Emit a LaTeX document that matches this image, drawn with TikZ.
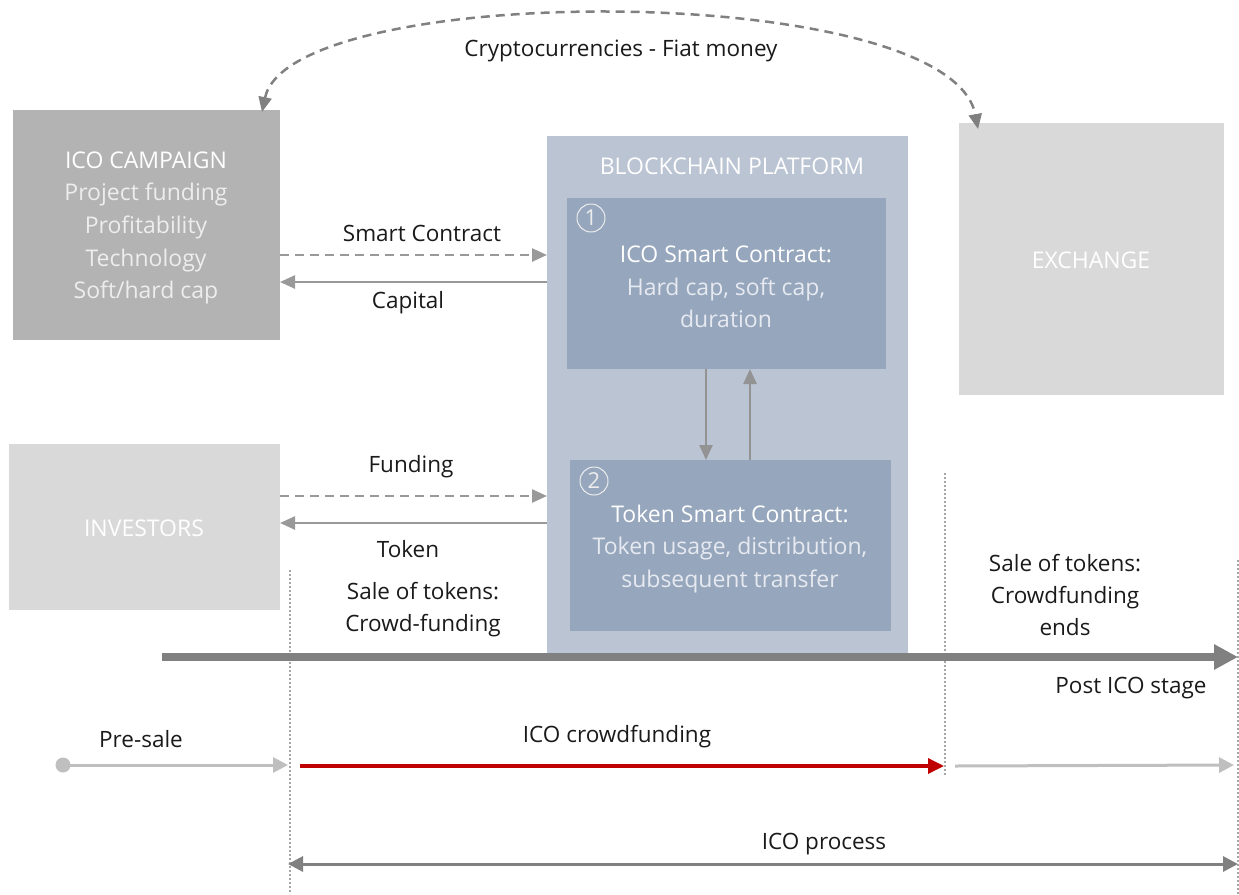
\documentclass[tikz,border=0pt]{standalone}
\usepackage{fontspec}
\setmainfont{Open Sans}
\usetikzlibrary{arrows.meta,calc}
\definecolor{campfill}{HTML}{B3B3B3}
\definecolor{lightfill}{HTML}{D9D9D9}
\definecolor{platfill}{HTML}{BAC4D3}
\definecolor{innerfill}{HTML}{96A6BD}
\definecolor{arrgray}{HTML}{999999}
\definecolor{darkgray}{HTML}{808080}
\definecolor{lightgray}{HTML}{BFBFBF}
\definecolor{dotgray}{HTML}{A6A6A6}
\definecolor{icored}{HTML}{C00000}
\definecolor{subtxt}{HTML}{EDEDED}
\definecolor{subtxtb}{HTML}{E6EAF0}
\definecolor{txt}{HTML}{1A1A1A}
\tikzset{
  box/.style={draw=none,inner sep=0pt,outer sep=0pt,anchor=north west},
  boxtxt/.style={align=center,font=\fontsize{23}{32.7}\selectfont,text=white},
  lbl/.style={align=center,font=\fontsize{22.5}{32}\selectfont,text=txt},
  conn/.style={draw=arrgray,line width=2.5pt,-{Triangle[length=15pt,width=13pt]}},
  dconn/.style={conn,dash pattern=on 9pt off 6pt},
  vdot/.style={draw=dotgray,line width=1.3pt,dash pattern=on 2pt off 2pt},
  num/.style={circle,draw=subtxt,line width=1pt,minimum size=28pt,inner sep=0pt,text=subtxt,font=\fontsize{22}{24}\selectfont},
}
\begin{document}
\begin{tikzpicture}[x=1pt,y=-1pt]
\useasboundingbox (0,0) rectangle (1239,894);
% boxes
\node[box,fill=campfill,minimum width=267pt,minimum height=230pt] (camp) at (13,110) {};
\node[box,fill=lightfill,minimum width=271pt,minimum height=166pt] (inv) at (9,444) {};
\node[box,fill=lightfill,minimum width=265pt,minimum height=272pt] (exch) at (959,123) {};
\node[box,fill=platfill,minimum width=361pt,minimum height=519pt] (plat) at (547,136) {};
\node[box,fill=innerfill,minimum width=319pt,minimum height=171pt] (ico) at (567,198) {};
\node[box,fill=innerfill,minimum width=321pt,minimum height=171pt] (tok) at (570,460) {};
% box texts
\node[boxtxt] (camptxt) at (146,228) {ICO CAMPAIGN\\\color{subtxt}Project funding\\\color{subtxt}Profitability\\\color{subtxt}Technology\\\color{subtxt}Soft/hard cap};
\node[boxtxt] (invtxt) at (144,528) {INVESTORS};
\node[boxtxt] (exchtxt) at (1091,260) {EXCHANGE};
\node[boxtxt] (plattxt) at (732,166) {BLOCKCHAIN PLATFORM};
\node[boxtxt] (icotxt) at (726,287) {ICO Smart Contract:\\\color{subtxtb}Hard cap, soft cap,\\\color{subtxtb}duration};
\node[boxtxt] (toktxt) at (730,549) {Token Smart Contract:\\\color{subtxtb}Token usage, distribution,\\\color{subtxtb}subsequent transfer};
\node[num] (n1) at (591,218) {1};
\node[num] (n2) at (594,481) {2};
% connectors between boxes
\coordinate (sc) at (0,255);
\coordinate (cap) at (0,282);
\coordinate (fu) at (0,496);
\coordinate (tk) at (0,523);
\draw[dconn] (camp.east |- sc) -- (plat.west |- sc);
\draw[conn] (plat.west |- cap) -- (camp.east |- cap);
\draw[dconn] (inv.east |- fu) -- (plat.west |- fu);
\draw[conn] (plat.west |- tk) -- (inv.east |- tk);
\coordinate (dn) at (706,0);
\coordinate (up) at (750,0);
\draw[conn,draw=darkgray!85] (ico.south -| dn) -- (tok.north -| dn);
\draw[conn,draw=darkgray!85] (tok.north -| up) -- (ico.south -| up);
% top curve
\coordinate (cs) at (262,112);
\coordinate (ce) at (978,129);
\draw[draw=darkgray,line width=2.5pt,dash pattern=on 9pt off 6pt,{Triangle[length=15pt,width=13pt]}-{Triangle[length=15pt,width=13pt]}]
  (cs) .. controls (290,-20) and (950,-20) .. (ce);
\node[lbl] (crypto) at (621,51) {Cryptocurrencies - Fiat money};
% labels
\node[lbl] (lsc) at (422,233) {Smart Contract};
\node[lbl] (lcap) at (408,303) {Capital};
\node[lbl] (lfu) at (411,467) {Funding};
\node[lbl] (ltk) at (408,549) {Token};
\node[lbl] (lsale) at (423,610) {Sale of tokens:\\Crowd-funding};
\node[lbl] (lend) at (1065,595) {Sale of tokens:\\Crowdfunding\\ends};
\node[lbl] (lpost) at (1131,688) {Post ICO stage};
\node[lbl] (lpre) at (141,739) {Pre-sale};
\node[lbl] (lcf) at (617,737) {ICO crowdfunding};
\node[lbl] (lproc) at (824,844) {ICO process};
% dotted verticals
\coordinate (v1t) at (290,570);
\coordinate (v1b) at (290,894);
\coordinate (v2t) at (945,473);
\coordinate (v2b) at (945,775);
\coordinate (v3t) at (1238,560);
\coordinate (v3b) at (1238,894);
\draw[vdot] (v1t) -- (v1b);
\draw[vdot] (v2t) -- (v2b);
\draw[vdot] (v3t) -- (v3b);
% timeline
\coordinate (tl0) at (162,657);
\coordinate (tl1) at (1238,657);
\draw[draw=darkgray,line width=8pt,-{Triangle[length=24pt,width=24pt]}] (tl0) -- (tl1);
% pre-sale
\coordinate (ps0) at (63,765);
\coordinate (ps1) at (288,765);
\fill[lightgray] (ps0) circle (7.5pt);
\draw[draw=lightgray,line width=3pt,-{Triangle[length=15pt,width=15pt]}] (ps0) -- (ps1);
% ico crowdfunding
\coordinate (cf0) at (300,766);
\coordinate (cf1) at (944,766);
\draw[draw=icored,line width=3.5pt,-{Triangle[length=16pt,width=15pt]}] (cf0) -- (cf1);
% post
\coordinate (po0) at (955,766);
\coordinate (po1) at (1234,765);
\draw[draw=lightgray,line width=3pt,-{Triangle[length=15pt,width=15pt]}] (po0) -- (po1);
% ico process
\coordinate (pr0) at (288,864);
\coordinate (pr1) at (1238,864);
\draw[draw=darkgray,line width=3pt,{Triangle[length=15pt,width=15pt]}-{Triangle[length=15pt,width=15pt]}] (pr0) -- (pr1);
\end{tikzpicture}
\end{document}
